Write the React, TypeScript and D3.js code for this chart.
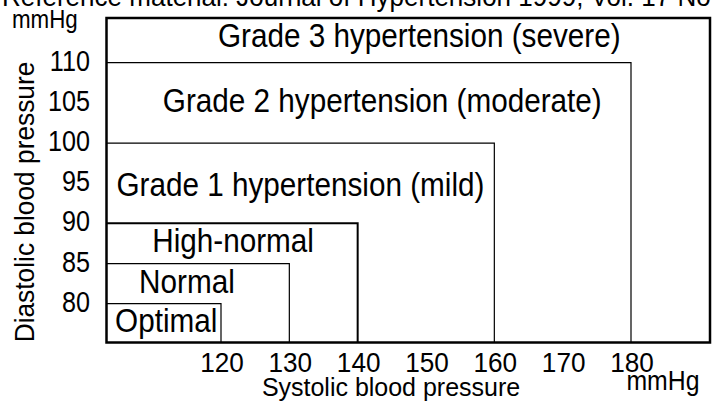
import React from "react";
import * as d3 from "d3";

// ---- data ----
const categories = [
  "Optimal",
  "Normal",
  "High-normal",
  "Grade 1 hypertension (mild)",
  "Grade 2 hypertension (moderate)",
  "Grade 3 hypertension (severe)",
];
const systolicUpper: (number | null)[] = [120, 130, 140, 160, 180, null];
const diastolicUpper: (number | null)[] = [80, 85, 90, 100, 110, null];
const xTicks = [120, 130, 140, 150, 160, 170, 180];
const yTicks = [80, 85, 90, 95, 100, 105, 110];
const title = "Reference material: Journal of Hypertension 1999, Vol. 17 No. 2";
const xTitle = "Systolic blood pressure";
const yTitle = "Diastolic blood pressure";
const unit = "mmHg";

// ---- layout ----
const W = 712;
const H = 403;
const frame = { left: 106.5, right: 710, top: 18, bottom: 342.5 };
const FONT = "'Liberation Sans', Arial, Helvetica, sans-serif";
// label tweaks (dx from box centre, baseline offset from band top)
const labelDx = [2.5, -11, 1, 0, 13.5, 11];
const labelBase = [28.5, 29, 29, 53, 49, 29];
const boxStroke = [1.2, 1.2, 2, 1.2, 1.2, 2.5];

const x = d3.scaleLinear().domain([120, 180]).range([221, 631]);
const y = d3.scaleLinear().domain([80, 110]).range([303.7, 62.7]);

function T(props: {
  x: number;
  y: number;
  size: number;
  sx?: number;
  anchor?: "start" | "middle" | "end";
  rotate?: number;
  children: React.ReactNode;
}) {
  const { sx = 1, anchor = "start", rotate } = props;
  const tr = `translate(${props.x},${props.y})${rotate ? ` rotate(${rotate})` : ""} scale(${sx},1)`;
  return (
    <text transform={tr} fontSize={props.size} textAnchor={anchor} fontFamily={FONT} fill="#000">
      {props.children}
    </text>
  );
}

export default function App() {
  const boxes = categories.map((c, i) => {
    const s = systolicUpper[i];
    const d = diastolicUpper[i];
    const right = s == null ? frame.right : x(s);
    const top = d == null ? frame.top : y(d);
    return { c, i, right, top };
  });
  return (
    <svg
      width={W}
      height={H}
      viewBox={`0 0 ${W} ${H}`}
      style={{ position: "absolute", left: 0, top: 0, background: "#fff" }}
    >
      <rect x={0} y={0} width={W} height={H} fill="#fff" />
      <T x={2} y={6} size={28} sx={0.93}>{title}</T>
      <T x={12} y={28} size={26} sx={0.86}>{unit}</T>

      {/* category boxes */}
      {boxes.slice(0, 5).map((b) => (
        <path
          key={b.c}
          d={`M${frame.left},${b.top}H${b.right}V${frame.bottom}`}
          fill="none"
          stroke="#000"
          strokeWidth={boxStroke[b.i]}
        />
      ))}
      {/* frame */}
      <rect
        x={frame.left}
        y={frame.top}
        width={frame.right - frame.left}
        height={frame.bottom - frame.top}
        fill="none"
        stroke="#000"
        strokeWidth={2.5}
      />

      {/* category labels */}
      {boxes.map((b) => (
        <T
          key={"l" + b.c}
          x={(frame.left + b.right) / 2 + labelDx[b.i]}
          y={b.top + labelBase[b.i]}
          size={33}
          sx={0.9}
          anchor="middle"
        >
          {b.c}
        </T>
      ))}

      {/* y ticks */}
      {yTicks.map((v) => (
        <T key={"y" + v} x={90} y={y(v) + 8} size={30} sx={0.84} anchor="end">
          {v}
        </T>
      ))}
      {/* x ticks */}
      {xTicks.map((v) => (
        <T key={"x" + v} x={x(v) + 1} y={372} size={27} sx={0.97} anchor="middle">
          {v}
        </T>
      ))}

      <T x={391} y={396} size={25.5} sx={0.98} anchor="middle">{xTitle}</T>
      <T x={663} y={390} size={27} sx={0.92} anchor="middle">{unit}</T>
      <T x={33.5} y={202} size={28} sx={0.94} anchor="middle" rotate={-90}>{yTitle}</T>
    </svg>
  );
}
